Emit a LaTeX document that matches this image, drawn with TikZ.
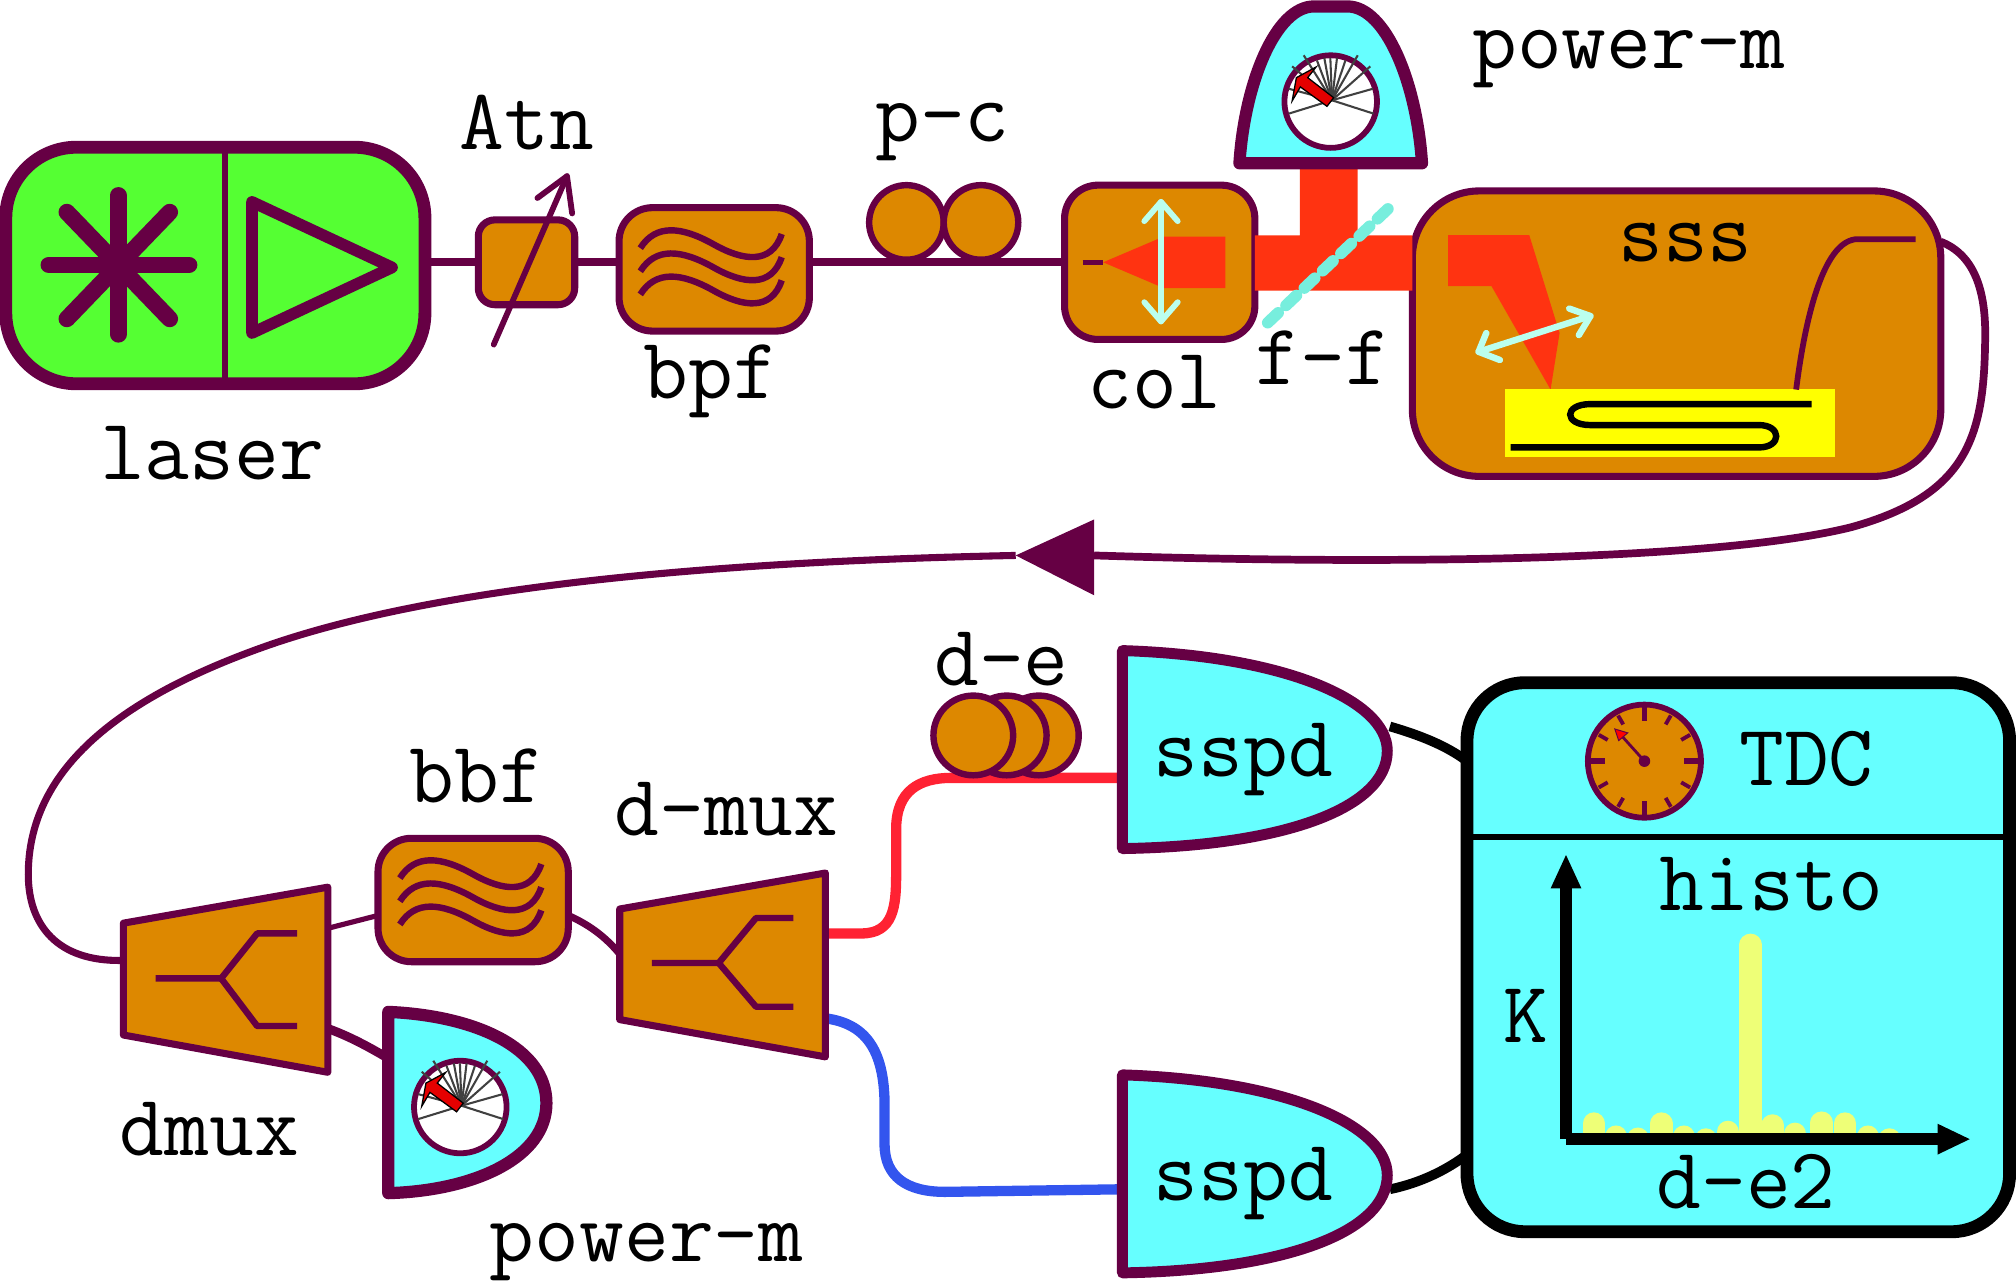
\documentclass[tikz,border=0pt]{standalone}
\usepackage{fontspec}
\setmonofont{Latin Modern Mono}
\definecolor{pur}{HTML}{660044}
\definecolor{org}{HTML}{DD8800}
\definecolor{grn}{HTML}{55FF33}
\definecolor{cyn}{HTML}{66FFFF}
\definecolor{beam}{HTML}{FF3311}
\definecolor{yel}{HTML}{FFFF00}
\definecolor{pale}{HTML}{BBFFEE}
\definecolor{split}{HTML}{77EEDD}
\definecolor{barc}{HTML}{EEFF77}
\definecolor{redf}{HTML}{FF2233}
\definecolor{bluf}{HTML}{3355EE}
\newlength{\unitD}\setlength{\unitD}{0.643pt}
\tikzset{
  lw/.style={line width=#1*\unitD},
  lbl/.style={font=\fontsize{43.5}{43.5}\selectfont\ttfamily\bfseries, inner sep=0pt, text=black, anchor=base},
  rbox/.style n args={4}{draw=pur, fill=#4, rectangle, rounded corners=#3*\unitD, inner sep=0pt, outer sep=0pt,
     minimum width=#1*\unitD, minimum height=#2*\unitD, lw=5.5},
  fibre/.style={draw=pur, lw=#1, line cap=butt},
  shapeo/.style={draw=pur, fill=org, lw=5.5, line join=round},
  det/.style={draw=pur, fill=cyn, lw=#1, line join=round},
  glyph/.style={draw=pur, lw=#1, line cap=round, line join=round},
}
\newcommand{\gaugeAt}[2]{%
 \begin{scope}[shift={(#1,#2)}]
  \draw[draw=pur, fill=white, lw=4.5] (-1,1) circle [radius=36*\unitD];
  \foreach \a/\b in {-33.7/10.4,32.4/10.4,31.9/-9,29.8/-26.4,20/-35,10.4/-31,3.9/-33,-1.3/-33,-6/-33,-11.7/-31,-22/-35,-31/-26.4,-33.7/-9}
    \draw[draw=black!75, lw=1.6] (0,0) -- (\a,\b);
  \draw[fill=red!90!black, draw=black, lw=1, line join=miter] (-3.9,4.7) -- (1.3,-2) -- (-18.9,-17.6) -- (-12.4,-25.9) -- (-27.7,-17.6) -- (-31,0.5) -- (-24.6,-10.4) -- cycle;
 \end{scope}}
\newcommand{\wavesAt}[2]{%
 \begin{scope}[shift={(#1,#2)}]
  \foreach \d in {0,18,36}
   \draw[draw=pur, lw=5] (498,193+\d) .. controls (510,174+\d) and (530,176+\d) .. (555,190+\d) .. controls (578,203+\d) and (600,206+\d) .. (608,182+\d);
 \end{scope}}
\begin{document}
\begin{tikzpicture}[x=0.643pt,y=-0.643pt]
\useasboundingbox (0,0) rectangle (1568,996.4);
\node[rbox={326}{184}{55}{grn}, lw=10] (laser) at (167.5,206.5) {};
\node[rbox={75}{66}{13}{org}] (atn) at (409.5,204) {};
\node[rbox={148}{96}{26}{org}] (bpf) at (555.5,209.5) {};
\node[rbox={148}{120}{26}{org}] (col) at (902,204) {};
\node[rbox={411}{222}{52}{org}] (sss) at (1304,259.5) {};
\node[rbox={148}{96}{26}{org}] (bbf) at (368,700) {};
\node[rbox={422}{427}{45}{cyn}, draw=black, lw=10] (tdc) at (1352,744.5) {};
\draw[fibre=6] (laser.east |- atn.west) -- (atn.west);
\draw[fibre=6] (atn.east) -- (bpf.west |- atn.east);
\draw[fibre=6] (bpf.east |- atn.east) -- (col.west);
% laser internals
\draw[draw=pur, lw=4] (175,114.5) -- (175,298.5);
\foreach \a/\b/\c/\d in {38/206/147/206, 92/152/92/260, 52/165/132/248, 132/165/52/248}
  \draw[glyph=13] (\a,\b) -- (\c,\d);
\draw[glyph=9] (196,157) -- (305,208) -- (196,259) -- cycle;
% attenuator arrow
\coordinate (atnA) at (384,268);
\coordinate (atnB) at (441,137);
\draw[glyph=4.5] (atnA) -- (atnB);
\draw[glyph=4.5] (418,154) -- (atnB) -- (445,166);
% band-pass filters
\wavesAt{0}{0}
\wavesAt{-187}{490}
% polarisation controller
\node[draw=pur, fill=org, circle, lw=5, inner sep=0pt, minimum size=58*\unitD] (pc1) at (705,173) {};
\node[draw=pur, fill=org, circle, lw=5, inner sep=0pt, minimum size=58*\unitD] (pc2) at (763,173) {};
% collimator
\fill[beam] (858,204) -- (905,184) -- (953,184) -- (953,224) -- (905,224) -- cycle;
\draw[draw=pur, lw=3.5] (842,204) -- (858,204);
\coordinate (lensT) at (903,157);
\coordinate (lensB) at (903,250);
\draw[draw=pale, lw=4.5, line cap=round, line join=round] (lensT) -- (lensB);
\draw[draw=pale, lw=4.5, line cap=round, line join=round] (890,172) -- (lensT) -- (916,172);
\draw[draw=pale, lw=4.5, line cap=round, line join=round] (890,235) -- (lensB) -- (916,235);
% free-space beam
\fill[beam] (col.east |- 0,183) -- (1011,183) -- (1011,130) -- (1056,130) -- (1056,183) -- (sss.west |- 0,183) -- (sss.west |- 0,226) -- (col.east |- 0,226) -- cycle;
\coordinate (ffA) at (986,251);
\coordinate (ffB) at (1080,162);
\draw[draw=split, lw=9, line cap=round, dash pattern=on 7.2pt off 5.4pt] (ffA) -- (ffB);
% power meter (top)
\draw[det=9.5] (964,127) .. controls (968,65) and (992,5) .. (1022,5) -- (1048,5) .. controls (1078,5) and (1102,65) .. (1106,127) -- cycle;
\gaugeAt{1036}{78}
% sss internals
\fill[beam] (1126.4,182.8) -- (1189.4,182.8) -- (1213,259) -- (1206,303) -- (1160,222.5) -- (1126.4,222.5) -- cycle;
\fill[yel] (1170.8,302.6) rectangle (1427,355.8);
\draw[draw=black, lw=5] (1409,314.3) -- (1237,314.3) .. controls (1216,314.3) and (1216,330.6) .. (1237,330.6) -- (1368,330.6) .. controls (1386,330.6) and (1386,348) .. (1368,348) -- (1175,348);
\draw[draw=pale, lw=5, line cap=round, line join=round] (1150,273.6) -- (1237,245.8);
\draw[draw=pale, lw=5, line cap=round, line join=round] (1166.6,280) -- (1150,273.6) -- (1156,259);
\draw[draw=pale, lw=5, line cap=round, line join=round] (1220.5,240) -- (1237,245.8) -- (1228,260.6);
\draw[fibre=4.5] (1397,303) .. controls (1405,240) and (1420,186) .. (1445,186) -- (1490,186);
% long fibre
\coordinate (arrowTip) at (790,432);
\coordinate (arrowBase) at (851,432);
\coordinate (dmuxIn) at (95,747);
\draw[fibre=6] (sss.east |- 0,188) .. controls (1535,198) and (1545,225) .. (1544,265) .. controls (1543,340) and (1530,385) .. (1440,410) .. controls (1340,435) and (1100,440) .. (arrowBase);
\draw[fibre=5.5] (arrowTip) .. controls (600,436) and (350,450) .. (200,505) .. controls (90,545) and (22,600) .. (22,680) .. controls (22,720) and (45,748) .. (dmuxIn);
\fill[pur] (arrowTip) -- (851,404) -- (851,463) -- cycle;
% demultiplexers
\coordinate (dmR1) at (255,722);
\coordinate (dmR2) at (255,800);
\coordinate (pmL) at (300,822);
\coordinate (d2L) at (482,742);
\coordinate (d2R1) at (642,726);
\coordinate (d2R2) at (642,792);
\coordinate (sT) at (872,605);
\coordinate (sB) at (872,925);
\draw[fibre=4] (dmR1) -- (bbf.west |- 0,712);
\draw[fibre=5.5] (bbf.east |- 0,712) .. controls (460,720) and (472,730) .. (d2L);
\draw[fibre=7] (dmR2) .. controls (272,806) and (288,815) .. (pmL);
\draw[draw=redf, lw=8] (d2R1) -- (670,726) .. controls (695,726) and (697,705) .. (697,680) -- (697,645) .. controls (697,615) and (715,605) .. (740,605) -- (sT);
\draw[draw=bluf, lw=8] (d2R2) .. controls (672,796) and (688,815) .. (688,860) -- (688,890) .. controls (688,915) and (705,927) .. (735,927) -- (sB);
\draw[shapeo] (96,718) -- (255,690) -- (255,834) -- (96,805) -- cycle;
\draw[glyph=5, line cap=butt] (121,761) -- (172,761) -- (200,726) -- (231,726);
\draw[glyph=5, line cap=butt] (172,761) -- (200,798) -- (231,798);
\draw[shapeo] (482,707) -- (642,679) -- (642,822) -- (482,793) -- cycle;
\draw[glyph=5, line cap=butt] (507,749) -- (559,749) -- (588,714) -- (617,714);
\draw[glyph=5, line cap=butt] (559,749) -- (588,783) -- (617,783);
% power meter (bottom)
\draw[det=9.5] (302,787) .. controls (370,790) and (425,815) .. (425,858) .. controls (425,900) and (370,926) .. (302,928) -- cycle;
\gaugeAt{359}{860}
% delay loops
\foreach \x in {808,783,757}
  \draw[draw=pur, fill=org, lw=5] (\x,572) circle [radius=31*\unitD];
% sspd
\coordinate (sspdTop) at (1081,565);
\coordinate (sspdBot) at (1081,925);
\draw[draw=black, lw=7.5] (sspdTop) .. controls (1105,572) and (1125,580) .. (tdc.west |- 0,592);
\draw[draw=black, lw=7.5] (sspdBot) .. controls (1105,920) and (1125,910) .. (tdc.west |- 0,898);
\draw[det=8.5] (873,506) .. controls (1000,510) and (1079,545) .. (1079,584) .. controls (1079,628) and (1000,658) .. (873,660) -- cycle;
\draw[det=8.5] (873,836) .. controls (1000,840) and (1079,875) .. (1079,914) .. controls (1079,958) and (1000,988) .. (873,990) -- cycle;
% TDC
\draw[draw=black, lw=4.5] (tdc.west |- 0,651) -- (tdc.east |- 0,651);
\draw[draw=pur, fill=org, lw=4.5] (1279,592) circle [radius=44*\unitD];
\foreach \a/\b/\c/\d in {1279/550/1279/561, 1279/634/1279/623, 1237/592/1248/592, 1321/592/1310/592}
  \draw[draw=pur, lw=4.5] (\a,\b) -- (\c,\d);
\foreach \t in {30,60,120,150,210,240,300,330}
  \draw[draw=pur, lw=3] ({1279+41*cos(\t)},{592+41*sin(\t)}) -- ({1279+33*cos(\t)},{592+33*sin(\t)});
\draw[draw=pur, lw=2.2] (1279,592) -- (1261,572);
\draw[fill=red, draw=pur, lw=.8] (1256,567) -- (1266,570) -- (1259,576) -- cycle;
\fill[pur] (1279,592) circle [radius=4.5*\unitD];
% histogram
\begin{scope}
  \clip (1225,700) rectangle (1500,885);
  \foreach \x/\t in {1239.6/865.4,1257/875.6,1273.8/877.2,1292.2/865.4,1309.6/875.6,1326.7/877.8,1343.8/871.9,1361.6/726.4,1378.7/866.9,1396.1/873.4,1416.9/864.7,1435/865.4,1452.7/875.6,1469.5/877.8}
    \draw[draw=barc, lw=17.5, line cap=round] (\x,920) -- (\x,\t+8.5);
\end{scope}
\coordinate (axO) at (1218,886);
\coordinate (axY) at (1218,690);
\coordinate (axX) at (1508,886);
\draw[draw=black, lw=9, line cap=square] (axO) -- (axY);
\draw[draw=black, lw=9] (axO) -- (axX);
\fill[black] (1218,665) -- (1230,691) -- (1206,691) -- cycle;
\fill[black] (1532,886) -- (1507,874) -- (1507,898) -- cycle;
% labels
\node[lbl] (tAtn) at (410,116) {Atn};
\node[lbl] (tPc) at (733,110) {p-c};
\node[lbl] (tPm1) at (1267,53) {power-m};
\node[lbl] (tBpf) at (553,310) {bpf};
\node[lbl] (tCol) at (898,318) {col};
\node[lbl] (tFf) at (1029,299) {f-f};
\node[lbl] (tLaser) at (165,373) {laser};
\node[lbl] (tSss) at (1311,203) {sss};
\node[lbl] (tDe) at (779,533) {d-e};
\node[lbl] (tBbf) at (371,624) {bbf};
\node[lbl] (tDm) at (565,650) {d-mux};
\node[lbl] (tDmux) at (163,899) {dmux};
\node[lbl] (tPm2) at (503,981) {power-m};
\node[lbl] (tS1) at (967,604) {sspd};
\node[lbl] (tS2) at (967,934) {sspd};
\node[lbl] (tTdc) at (1405,611) {TDC};
\node[lbl] (tHisto) at (1378,708) {histo};
\node[lbl] (tK) at (1187,811) {K};
\node[lbl] (tDe2) at (1358,940) {d-e2};
\end{tikzpicture}
\end{document}
